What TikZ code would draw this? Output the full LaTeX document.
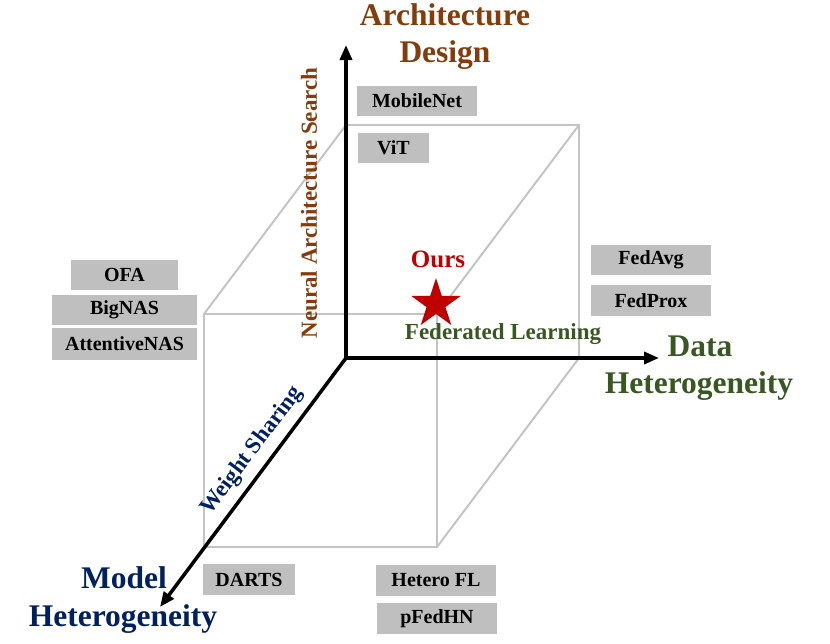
\documentclass[tikz,border=0pt]{standalone}
\usepackage{fontspec}
\setmainfont{Liberation Serif}
\usetikzlibrary{arrows.meta,shapes.geometric}
\definecolor{cbrown}{HTML}{843C0C}
\definecolor{cgreen}{HTML}{385723}
\definecolor{cnavy}{HTML}{002060}
\definecolor{cred}{HTML}{C00000}
\definecolor{cedge}{HTML}{C4C4C4}
\definecolor{cbox}{HTML}{BFBFBF}
\tikzset{
  cubeedge/.style={draw=cedge,line width=2pt},
  axisline/.style={draw=black,line width=3.5pt,-{Triangle[length=15pt,width=12pt]}},
  method/.style={fill=cbox,inner sep=0pt,font=\fontsize{20}{22}\selectfont\bfseries,text=black},
  bigtitle/.style={font=\fontsize{31.5}{34}\selectfont\bfseries,anchor=base},
  midlabel/.style={font=\fontsize{23}{25}\selectfont\bfseries,anchor=base},
}
\begin{document}
\begin{tikzpicture}[x=1pt,y=-1pt]
\useasboundingbox (0,0) rectangle (830,643);
% cube corners
\coordinate (f1) at (204,314);
\coordinate (f2) at (437,314);
\coordinate (f3) at (437,547);
\coordinate (f4) at (204,547);
\coordinate (b1) at (346,125);
\coordinate (b2) at (579,125);
\coordinate (b3) at (579,358);
\coordinate (b4) at (346,358);
\draw[cubeedge] (f1) -- (f2) -- (f3) -- (f4) -- cycle;
\draw[cubeedge] (b1) -- (b2) -- (b3) -- (b4) -- cycle;
\draw[cubeedge] (f1) -- (b1);
\draw[cubeedge] (f2) -- (b2);
\draw[cubeedge] (f3) -- (b3);
\draw[cubeedge] (f4) -- (b4);
% method boxes
\node[method,minimum width=120pt,minimum height=30pt] (mobilenet) at (417,101) {MobileNet};
\node[method,minimum width=71pt,minimum height=30pt] (vit) at (393.5,148) {ViT};
\node[method,minimum width=107pt,minimum height=30pt] (ofa) at (124.5,275) {OFA};
\node[method,minimum width=145pt,minimum height=30pt] (bignas) at (124.5,310) {BigNAS};
\node[method,minimum width=145pt,minimum height=32pt] (attnas) at (124.5,344) {AttentiveNAS};
\node[method,minimum width=120pt,minimum height=30pt] (fedavg) at (651,260) {FedAvg};
\node[method,minimum width=120pt,minimum height=31pt] (fedprox) at (651,300.5) {FedProx};
\node[method,minimum width=92pt,minimum height=31pt] (darts) at (249,579.5) {DARTS};
\node[method,minimum width=120pt,minimum height=31pt] (heterofl) at (436,580.5) {Hetero FL};
\node[method,minimum width=120pt,minimum height=31pt] (pfedhn) at (437,618.5) {pFedHN};
% axes
\coordinate (O) at (346,358);
\coordinate (ytip) at (346,45);
\coordinate (xtip) at (659,358);
\coordinate (ztip) at (160,607);
\draw[axisline] (O) -- (ytip);
\draw[axisline] (O) -- (xtip);
\draw[axisline] (O) -- (ztip);
% titles
\node[bigtitle,text=cbrown] (arch) at (445,25) {Architecture};
\node[bigtitle,text=cbrown] (design) at (445,62) {Design};
\node[bigtitle,text=cgreen] (data) at (700,356) {Data};
\node[bigtitle,text=cgreen] (dhet) at (699,393) {Heterogeneity};
\node[bigtitle,text=cnavy] (model) at (124,588) {Model};
\node[bigtitle,text=cnavy] (mhet) at (123,626) {Heterogeneity};
% axis labels
\node[midlabel,text=cbrown,rotate=90,anchor=center] (nas) at (309,203) {Neural Architecture Search};
\node[midlabel,text=cnavy,rotate=53,anchor=center] (ws) at (252,451) {Weight Sharing};
\node[midlabel,text=cgreen] (fl) at (503,339) {Federated Learning};
% ours
\node[star,star points=5,star point ratio=2.618,minimum size=52pt,inner sep=0pt,fill=cred] (star) at (436,304) {};
\node[font=\fontsize{25}{27}\selectfont\bfseries,text=cred,anchor=base] (ours) at (438,267) {Ours};
\end{tikzpicture}
\end{document}
